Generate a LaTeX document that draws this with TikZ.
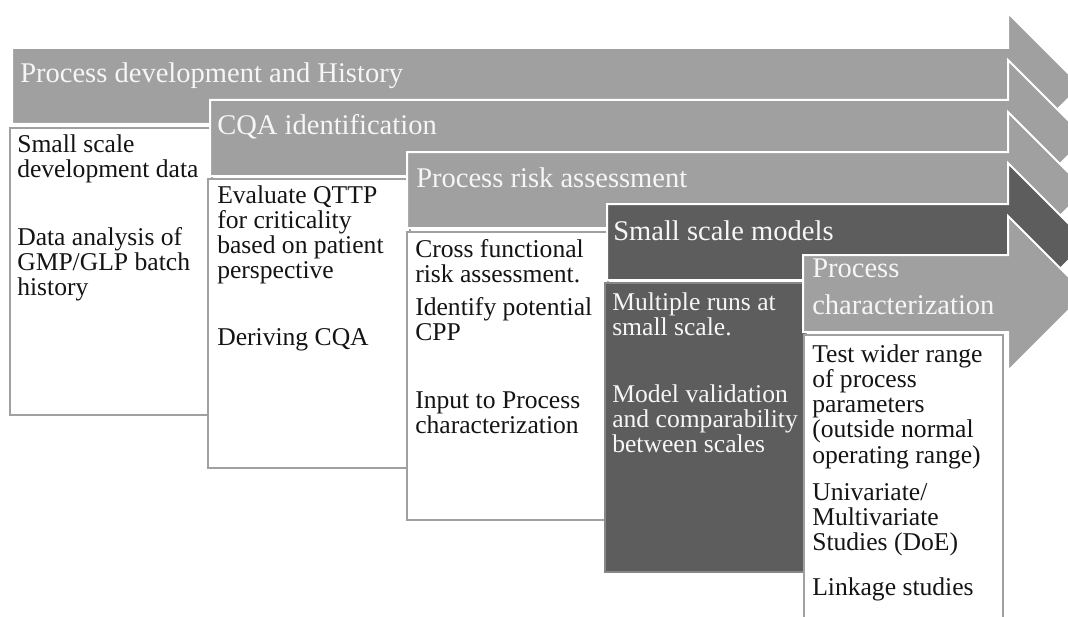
\documentclass[tikz,border=0pt]{standalone}
\usepackage{fontspec}
\setmainfont{Liberation Serif}
\definecolor{arrowgray}{RGB}{160,160,160}
\definecolor{darkgray2}{RGB}{93,93,93}
\definecolor{boxline}{RGB}{160,160,160}
\definecolor{darkline}{RGB}{135,135,135}
\definecolor{titlecol}{RGB}{246,246,246}
\definecolor{textcol}{RGB}{20,20,20}
\newcommand\stack[1]{\begin{tabular}[t]{@{}l@{}}#1\end{tabular}}
\tikzset{
  arrowshape/.style={draw=white, line width=1.5pt, line join=miter},
  whitebox/.style={draw=boxline, fill=white, line width=2.2pt},
  darkbox/.style={draw=darkline, fill=darkgray2, line width=2.2pt},
  titletext/.style={anchor=base west, inner sep=0pt, text=titlecol,
    font=\fontsize{21.4}{21}\selectfont},
  bodytext/.style={anchor=base west, inner sep=0pt, text=textcol,
    font=\fontsize{19.2}{18.75}\selectfont},
  darktext/.style={bodytext, text=titlecol}
}
\newcommand\pharrow[5]{%
  \pgfmathsetmacro\tipx{1008+(#3-#2)/2+#4}%
  \pgfmathsetmacro\midy{(#2+#3)/2}%
  \filldraw[arrowshape, fill=#5] (#1,#2) -- (1008,#2) -- (1008,#2-#4) -- (\tipx,\midy)
    -- (1008,#3+#4) -- (1008,#3) -- (#1,#3) -- cycle;}
\begin{document}
\begin{tikzpicture}[x=0.75pt, y=-0.75pt]
\useasboundingbox (0,0) rectangle (1068,617);
\clip (0,0) rectangle (1068,617);
% stage 1
\pharrow{12}{48}{124}{35}{arrowgray}
\node[titletext] (t1) at (20,83) {Process development and History};
\draw[whitebox] (10,128) rectangle (212,415);
\node[bodytext] (b1a) at (17,152) {\stack{Small scale\\development data}};
\node[bodytext] (b1b) at (17,245) {\stack{Data analysis of\\GMP/GLP batch\\history}};
% stage 2
\pharrow{210}{100}{176}{40}{arrowgray}
\node[titletext] (t2) at (217,135) {CQA identification};
\draw[whitebox] (208,179) rectangle (410,468);
\node[bodytext] (b2a) at (217,203) {\stack{Evaluate QTTP\\for criticality\\based on patient\\perspective}};
\node[bodytext] (b2b) at (217,345) {Deriving CQA};
% stage 3
\pharrow{407}{152}{228}{40}{arrowgray}
\node[titletext] (t3) at (416,187) {Process risk assessment};
\draw[whitebox] (407,232) rectangle (608,520);
\node[bodytext] (b3a) at (415,257) {\stack{Cross functional\\risk assessment.}};
\node[bodytext] (b3b) at (415,315) {\stack{Identify potential\\CPP}};
\node[bodytext] (b3c) at (415,408) {\stack{Input to Process\\characterization}};
% stage 4
\pharrow{607}{204}{280}{41}{darkgray2}
\node[titletext] (t4) at (613,240) {Small scale models};
\draw[darkbox] (605,283) rectangle (806,572);
\node[darktext] (b4a) at (612,310) {\stack{Multiple runs at\\small scale.}};
\node[darktext] (b4b) at (612,402) {\stack{Model validation\\and comparability\\between scales}};
% stage 5
\pharrow{803}{255}{332}{39}{arrowgray}
\node[titletext, font=\fontsize{21.4}{28}\selectfont] (t5) at (812,277) {\stack{Process\\characterization}};
\draw[whitebox] (804,335) rectangle (1003,630);
\node[bodytext] (b5a) at (812,362) {\stack{Test wider range\\of process\\parameters\\(outside normal\\operating range)}};
\node[bodytext] (b5b) at (812,500) {\stack{Univariate/\\Multivariate\\Studies (DoE)}};
\node[bodytext] (b5c) at (812,595) {Linkage studies};
\end{tikzpicture}
\end{document}
